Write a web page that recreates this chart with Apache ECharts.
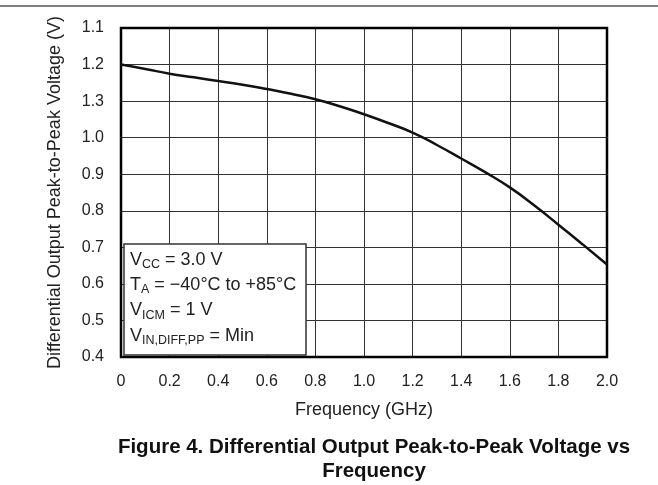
<!DOCTYPE html>
<html>
<head>
<meta charset="utf-8">
<script src="https://cdn.jsdelivr.net/npm/echarts@6/dist/echarts.min.js"></script>
<style>
  html, body { margin: 0; padding: 0; background: #fff; }
  #main { width: 658px; height: 485px; }
</style>
</head>
<body>
<div id="main"></div>
<script>
// frequency (GHz) and output voltage (V)
var freq = [0, 0.1, 0.2, 0.3, 0.4, 0.5, 0.6, 0.7, 0.8, 0.9, 1.0, 1.1, 1.2, 1.3, 1.4, 1.5, 1.6, 1.7, 1.8, 1.9, 2.0];
var vout = [1.2, 1.188, 1.175, 1.165, 1.155, 1.145, 1.133, 1.12, 1.105, 1.086, 1.064, 1.04, 1.014, 0.98, 0.943, 0.905, 0.864, 0.815, 0.762, 0.708, 0.653];
// tick labels as printed on the original figure (from 0.4 upward)
var yTickLabels = ['0.4', '0.5', '0.6', '0.7', '0.8', '0.9', '1.0', '1.3', '1.2', '1.1'];
var xTickLabels = ['0', '0.2', '0.4', '0.6', '0.8', '1.0', '1.2', '1.4', '1.6', '1.8', '2.0'];

var font = 'Liberation Sans, Arial, sans-serif';
var points = [];
for (var i = 0; i < freq.length; i++) {
    points.push([freq[i], vout[i]]);
}

var option = {
    animation: false,
    grid: {
        left: 121, right: 51, top: 28, bottom: 128,
        show: true,
        borderColor: '#000',
        borderWidth: 2.5,
        z: 3
    },
    xAxis: {
        type: 'value',
        min: 0, max: 2, interval: 0.2,
        name: 'Frequency (GHz)',
        nameLocation: 'middle',
        nameGap: 44,
        nameTextStyle: { fontFamily: font, fontSize: 18, color: '#222' },
        axisLine: { show: false },
        axisTick: { show: false },
        axisLabel: {
            margin: 17, fontFamily: font, fontSize: 16, color: '#222',
            formatter: function (v) { return xTickLabels[Math.round(v * 5)]; }
        },
        splitLine: { show: true, lineStyle: { color: '#333', width: 1 } }
    },
    yAxis: {
        type: 'value',
        min: 0.4, max: 1.3, interval: 0.1,
        name: 'Differential Output Peak-to-Peak Voltage (V)',
        nameLocation: 'middle',
        nameGap: 57,
        nameTextStyle: { fontFamily: font, fontSize: 18, color: '#222' },
        axisLine: { show: false },
        axisTick: { show: false },
        axisLabel: {
            margin: 17, fontFamily: font, fontSize: 16, color: '#222',
            formatter: function (v) { return yTickLabels[Math.round((v - 0.4) * 10)]; }
        },
        splitLine: { show: true, lineStyle: { color: '#333', width: 1 } }
    },
    series: [{
        type: 'line',
        data: points,
        smooth: true,
        showSymbol: false,
        lineStyle: { color: '#111', width: 2.5 },
        z: 4
    }],
    graphic: [
        {
            type: 'line',
            shape: { x1: 0, y1: 6, x2: 658, y2: 6 },
            style: { stroke: '#000', lineWidth: 1 }
        },
        {
            type: 'rect',
            shape: { x: 124, y: 244, width: 182, height: 111 },
            style: { fill: '#fff', stroke: '#333', lineWidth: 1.5 },
            z: 10
        },
        {
            type: 'text',
            x: 130, y: 247,
            z: 11,
            style: {
                text: 'V{s|CC} = 3.0 V\nT{s|A} = \u221240\u00b0C to +85\u00b0C\nV{s|ICM} = 1 V\nV{s|IN,DIFF,PP} = Min',
                fontFamily: font, fontSize: 18, fill: '#222',
                lineHeight: 25.3,
                rich: {
                    s: { fontFamily: font, fontSize: 12.5, fill: '#222', padding: [10, 0, 0, 0] }
                }
            }
        },
        {
            type: 'text',
            x: 374, y: 436,
            z: 5,
            style: {
                text: 'Figure 4. Differential Output Peak-to-Peak Voltage vs\nFrequency',
                fontFamily: font, fontSize: 20.5, fontWeight: 'bold', fill: '#111',
                align: 'center', verticalAlign: 'top', lineHeight: 23.5
            }
        }
    ]
};

var myChart = echarts.init(document.getElementById('main'));
myChart.setOption(option);
</script>
</body>
</html>
